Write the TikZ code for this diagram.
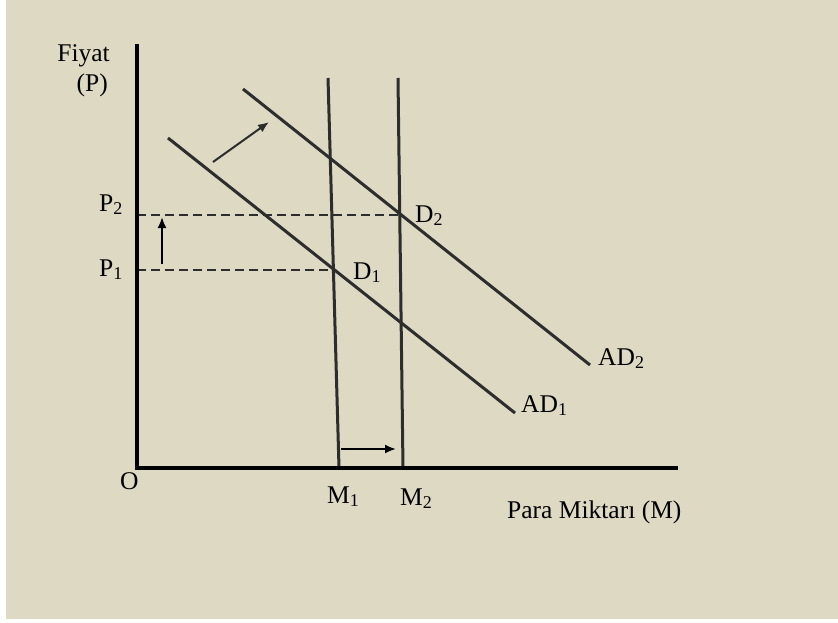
\documentclass[tikz,border=0pt]{standalone}
\usepackage{fontspec}
\setmainfont{Liberation Serif}
\usetikzlibrary{arrows.meta,positioning,calc}
\definecolor{PanelBeige}{HTML}{DDD9C3}
\definecolor{CurveGray}{HTML}{2D2D2D}
\newcommand\idx[1]{\raisebox{-3pt}{\fontsize{18}{18}\selectfont #1}}

\begin{document}
\begin{tikzpicture}[
        x=1pt, y=-1pt,
        font=\fontsize{25.5}{30}\selectfont,
        axis/.style={line width=3.5pt, draw=black},
        curve/.style={line width=3pt, draw=CurveGray},
        guide/.style={line width=2.5pt, draw=CurveGray, dash pattern=on 9pt off 5pt},
        move/.style={-{Latex[length=11pt,width=9pt]}, line width=2pt, draw=black},
        lbl/.style={anchor=base west, inner sep=0pt}
      ]
        \useasboundingbox (0,0) rectangle (838,623);
        \fill[white] (0,0) rectangle (838,623);
        \fill[PanelBeige] (6,0) rectangle (838,619);

        \coordinate (origin) at (137,468);
        \coordinate (ytop) at (137,44);
        \coordinate (xend) at (678,468);
        \coordinate (m1top) at (328,78);
        \coordinate (m1bot) at (339,468);
        \coordinate (m2top) at (398,78);
        \coordinate (m2bot) at (403,468);
        \coordinate (ad1a) at (168,138);
        \coordinate (ad1b) at (515,413);
        \coordinate (ad2a) at (243,89);
        \coordinate (ad2b) at (590,365);
        \coordinate (d1) at (333,270);
        \coordinate (d2) at (400,215);

        \draw[curve] (m1top) -- (m1bot);
        \draw[curve] (m2top) -- (m2bot);
        \draw[curve] (ad1a) -- (ad1b);
        \draw[curve] (ad2a) -- (ad2b);
        \draw[guide] (d1 -| origin) -- (d1);
        \draw[guide] (d2 -| origin) -- (d2);
        \draw[axis] (ytop) -- (origin) -- (xend);

        \coordinate (pa) at (162,264);
        \coordinate (pb) at (162,217);
        \coordinate (sa) at (213,162);
        \coordinate (sb) at (269,122);
        \coordinate (ma) at (341,449);
        \coordinate (mb) at (396,449);
        \draw[move] (pa) -- (pb);
        \draw[move, draw=CurveGray] (sa) -- (sb);
        \draw[move] (ma) -- (mb);

        \node[anchor=base east, inner sep=0pt] (fiyat) at (110,62) {Fiyat};
        \node[anchor=base east, inner sep=0pt] (pvar) at (108,92) {(P)};
        \node[lbl] (p2) at (99,211) {P\idx{2}};
        \node[lbl] (p1) at (99,276) {P\idx{1}};
        \node[lbl] (d1lbl) at (353,279) {D\idx{1}};
        \node[lbl] (d2lbl) at (415,222) {D\idx{2}};
        \node[lbl] (ad2) at (598,365) {AD\idx{2}};
        \node[lbl] (ad1) at (521,412) {AD\idx{1}};
        \node[lbl] (olbl) at (120,489) {O};
        \node[lbl] (m1) at (327,503) {M\idx{1}};
        \node[lbl] (m2) at (400,505) {M\idx{2}};
        \node[lbl] (para) at (507,518) {Para Miktarı (M)};
      \end{tikzpicture}
\end{document}
